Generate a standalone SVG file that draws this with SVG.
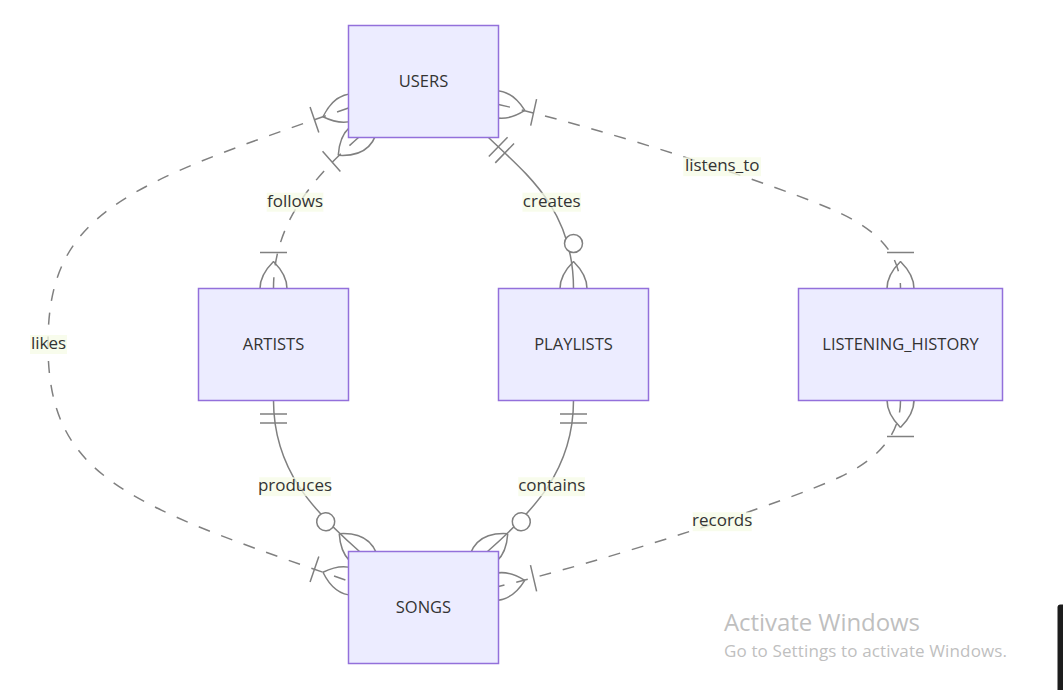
<svg xmlns="http://www.w3.org/2000/svg" width="1063" height="690" viewBox="0 0 1063 690">
<style>
.rel{fill:none;stroke:#808080;stroke-width:1.5}
.dash{stroke-dasharray:12 12}
.mk{fill:none;stroke:#808080;stroke-width:1}
.ent rect{fill:#ECECFF;stroke:#9370DB;stroke-width:1.5}
.ent text{font-family:"Open Sans","Noto Sans",sans-serif;font-size:16.5px;fill:#333;text-anchor:middle}
.lbl rect{fill:#f6fbe6;opacity:0.75}
.lbl text{font-family:"Open Sans","Noto Sans",sans-serif;font-size:17px;fill:#333;text-anchor:middle}
.wm{font-family:"Open Sans","Noto Sans",sans-serif;fill:#bfbfbf}
</style>
<defs>
<marker id="oneOrMore" markerWidth="45" markerHeight="36" refX="27" refY="18" orient="auto-start-reverse" overflow="visible"><path class="mk" d="M3,9 L3,27 M9,18 Q27,0 45,18 Q27,36 9,18"/></marker>
<marker id="onlyOne" markerWidth="18" markerHeight="18" refX="0" refY="9" orient="auto" overflow="visible"><path class="mk" d="M9,0 L9,18 M15,0 L15,18"/></marker>
<marker id="zeroOrMore" markerWidth="57" markerHeight="36" refX="39" refY="18" orient="auto" overflow="visible"><circle class="mk" cx="9" cy="18" r="6" style="fill:#fff"/><path class="mk" d="M21,18 Q39,0 57,18 Q39,36 21,18"/></marker>
</defs>
<rect width="1063" height="690" fill="#fff"/>
<g id="connectors">
<path id="e-likes" class="rel dash" d="M348.5,108 C121.5,185.8 48,214 48,344 C48,475 121.5,503.2 348.5,581" marker-start="url(#oneOrMore)" marker-end="url(#oneOrMore)"/>
<path id="e-follows" class="rel dash" d="M358.5,137.5 C306,183.7 273.5,228.5 273.5,288.5" marker-start="url(#oneOrMore)" marker-end="url(#oneOrMore)"/>
<path id="e-creates" class="rel" d="M488.5,137.5 C524.4,172.3 573.5,208.5 573.5,288.5" marker-start="url(#onlyOne)" marker-end="url(#zeroOrMore)"/>
<path id="e-listens" class="rel dash" d="M498.5,104.5 C598.5,126.9 785,187.3 840,213 C875,229.5 900.5,252 900.5,288.5" marker-start="url(#oneOrMore)" marker-end="url(#oneOrMore)"/>
<path id="e-records" class="rel dash" d="M900.5,400.5 C900.5,437 875,460.5 840,477 C785,502.7 598.5,563.1 498.5,586.5" marker-start="url(#oneOrMore)" marker-end="url(#oneOrMore)"/>
<path id="e-produces" class="rel" d="M273.5,400.5 C273.5,470.5 314.5,511.9 359.5,551.5" marker-start="url(#onlyOne)" marker-end="url(#zeroOrMore)"/>
<path id="e-contains" class="rel" d="M573.5,400.5 C573.5,470.5 532.5,511.9 487.5,551.5" marker-start="url(#onlyOne)" marker-end="url(#zeroOrMore)"/>
<g class="lbl">
<rect x="30" y="335" width="37" height="19"/><text x="48.5" y="349">likes</text>
<rect x="266.7" y="192.7" width="56.7" height="19"/><text x="295" y="206.7">follows</text>
<rect x="522.5" y="192.7" width="58.5" height="19"/><text x="551.7" y="206.7">creates</text>
<rect x="683.3" y="157.2" width="77.7" height="19"/><text x="722.2" y="171.3">listens_to</text>
<rect x="259.3" y="477.2" width="71.4" height="19"/><text x="295" y="491.3">produces</text>
<rect x="518.3" y="477.2" width="66.7" height="19"/><text x="551.7" y="491.3">contains</text>
<rect x="692.7" y="512.2" width="59" height="19"/><text x="722.2" y="526.3">records</text>
</g>
</g>
<g id="USERS" class="ent"><rect x="348.5" y="25.5" width="150" height="112"/><text x="423.5" y="86.5">USERS</text></g>
<g id="ARTISTS" class="ent"><rect x="198.5" y="288.5" width="150" height="112"/><text x="273.5" y="349.5">ARTISTS</text></g>
<g id="PLAYLISTS" class="ent"><rect x="498.5" y="288.5" width="150" height="112"/><text x="573.5" y="349.5">PLAYLISTS</text></g>
<g id="LISTENING_HISTORY" class="ent"><rect x="798.5" y="288.5" width="204" height="112"/><text x="900.5" y="349.5">LISTENING_HISTORY</text></g>
<g id="SONGS" class="ent"><rect x="348.5" y="551.5" width="150" height="112"/><text x="423.5" y="612.5">SONGS</text></g>
<text class="wm" x="724" y="631" font-size="24" textLength="196">Activate Windows</text>
<text class="wm" x="724" y="657" font-size="17" textLength="283">Go to Settings to activate Windows.</text>
<rect x="1057.5" y="604.5" width="12" height="90" rx="3" fill="#1c1c1c"/>
</svg>
